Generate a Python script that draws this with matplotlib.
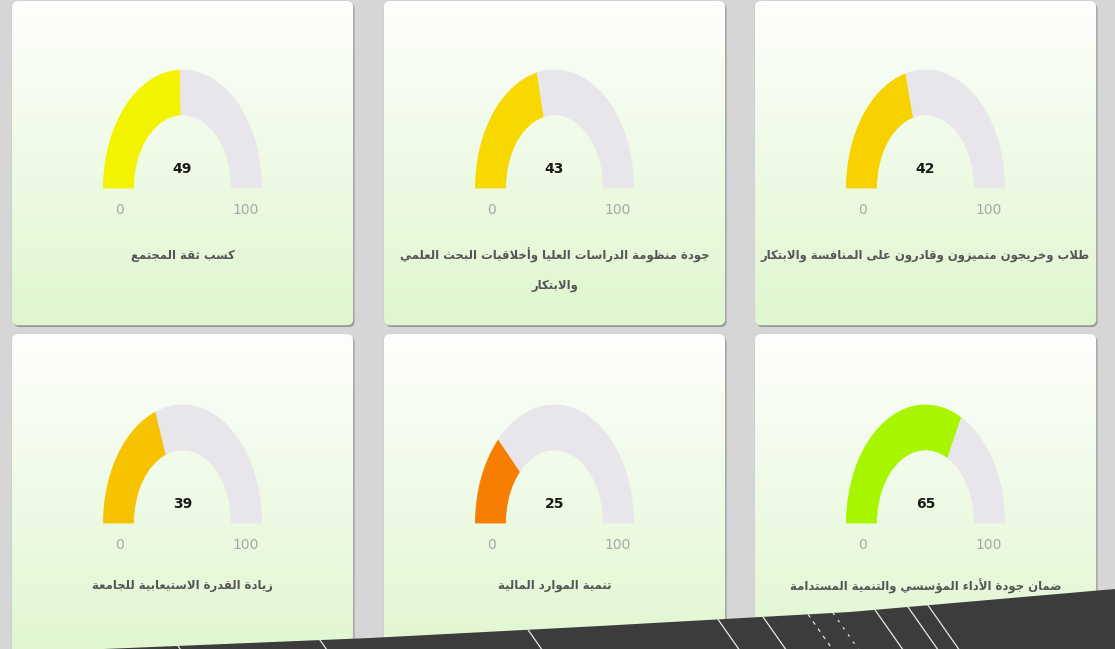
import numpy as np
import matplotlib
matplotlib.use('Agg')
import matplotlib.pyplot as plt
from matplotlib.patches import FancyBboxPatch, Polygon

# بطاقات المؤشرات (من اليسار لليمين، صف علوي ثم سفلي)
titles = [
    'كسب ثقة المجتمع',
    'جودة منظومة الدراسات العليا وأخلاقيات البحث العلمي\nوالابتكار',
    'طلاب وخريجون متميزون وقادرون على المنافسة والابتكار',
    'زيادة القدرة الاستيعابية للجامعة',
    'تنمية الموارد المالية',
    'ضمان جودة الأداء المؤسسي والتنمية المستدامة',
]
values = [49, 43, 42, 39, 25, 65]
gauge_min = 0
gauge_max = 100
colors = ['#f3f300', '#f7d800', '#f7d200', '#f7c300', '#f77d00', '#a8f500']

# --- tiny arabic shaper (matplotlib has no bidi / joining) ---
_order = ([(0x621, 1), (0x622, 2), (0x623, 2), (0x624, 2), (0x625, 2), (0x626, 4),
           (0x627, 2), (0x628, 4), (0x629, 2)]
          + [(c, 4) for c in range(0x62A, 0x62F)]
          + [(0x62F, 2), (0x630, 2), (0x631, 2), (0x632, 2)]
          + [(c, 4) for c in range(0x633, 0x63B)]
          + [(c, 4) for c in range(0x641, 0x648)]
          + [(0x648, 2), (0x649, 2), (0x64A, 4)])
FORMS = {}
p = 0xFE80
for c, n in _order:
    FORMS[chr(c)] = [chr(p + i) for i in range(n)]
    p += n
LAM_ALEF = {'\u0622': 0xFEF5, '\u0623': 0xFEF7, '\u0625': 0xFEF9, '\u0627': 0xFEFB}


def dual(ch):
    return ch in FORMS and len(FORMS[ch]) == 4


def joinable(ch):
    return ch in FORMS and len(FORMS[ch]) >= 2


def shape_line(text):
    out = []
    prev = None
    i = 0
    while i < len(text):
        ch = text[i]
        if ch not in FORMS:
            out.append(ch)
            prev = None
            i += 1
            continue
        jp = prev is not None and dual(prev) and joinable(ch)
        if ch == '\u0644' and i + 1 < len(text) and text[i + 1] in LAM_ALEF:
            out.append(chr(LAM_ALEF[text[i + 1]] + (1 if jp else 0)))
            prev = text[i + 1]
            i += 2
            continue
        nxt = text[i + 1] if i + 1 < len(text) else None
        jn = dual(ch) and nxt is not None and joinable(nxt)
        idx = (3 if jn else 1) if jp else (2 if jn else 0)
        out.append(FORMS[ch][idx])
        prev = ch
        i += 1
    return ''.join(reversed(out))


W, H = 1115, 649
fig = plt.figure(figsize=(W / 100, H / 100), dpi=100)
fig.patch.set_facecolor('#d6d6d6')
ax = fig.add_axes([0, 0, 1, 1])
ax.set_xlim(0, W)
ax.set_ylim(H, 0)
ax.axis('off')

card_x = [12, 384, 755]
card_w = 341
row_y = [1, 334]
card_h = [324, 330]
base_y = [188, 523]
grad = np.linspace(0, 1, 200)[:, None, None]
top_c = np.array([0.995, 0.998, 0.99])
bot_c = np.array([0.875, 0.965, 0.81])
grad_img = top_c * (1 - grad) + bot_c * grad

for k in range(6):
    r, c = divmod(k, 3)
    x0, y0, h = card_x[c], row_y[r], card_h[r]
    shadow = FancyBboxPatch((x0 + 1.5, y0 + 2), card_w, h,
                            boxstyle='round,pad=0,rounding_size=6',
                            fc='#6a6a6a', ec='none', alpha=0.6, zorder=1)
    ax.add_patch(shadow)
    card = FancyBboxPatch((x0, y0), card_w, h,
                          boxstyle='round,pad=0,rounding_size=6',
                          fc='#f4fbef', ec='#c8c8c8', lw=0.6, zorder=2)
    ax.add_patch(card)
    im = ax.imshow(grad_img, extent=(x0, x0 + card_w, y0 + h, y0),
                   aspect='auto', zorder=2.5, interpolation='bilinear')
    im.set_clip_path(card)

    cx = x0 + card_w / 2
    by = base_y[r]
    # gauge: own axes so the half ring comes out as the same squashed ellipse
    g = fig.add_axes([(cx - 79) / W, 1 - by / H, 158 / W, 118 / H])
    v = values[k]
    wedges, _ = g.pie([v - gauge_min, gauge_max - v, gauge_max - gauge_min],
                      colors=[colors[k], '#e8e6ea', 'none'],
                      startangle=180, counterclock=False, radius=1,
                      wedgeprops=dict(width=0.38, linewidth=0.6))
    for w in wedges[:2]:
        w.set_edgecolor(w.get_facecolor())
    wedges[2].set_visible(False)
    g.set_aspect('auto')
    g.set_xlim(-1, 1)
    g.set_ylim(0, 1)
    g.axis('off')
    g.patch.set_alpha(0)

    ax.text(cx, by - 19, str(v), ha='center', va='center', fontsize=10,
            fontweight='bold', color='#1a1a1a', zorder=5)
    ax.text(cx - 63, by + 22, str(gauge_min), ha='center', va='center',
            fontsize=10, color='#a8a8a8', zorder=5)
    ax.text(cx + 63, by + 22, str(gauge_max), ha='center', va='center',
            fontsize=10, color='#a8a8a8', zorder=5)
    lines = titles[k].split('\n')
    ty = by + 67 if r == 0 else by + 63
    for j, line in enumerate(lines):
        ax.text(cx, ty + j * 31, shape_line(line), ha='center', va='center',
                fontsize=8.4, fontweight='bold', color='#555555', zorder=5)

# dark band across the bottom
band_x = [80, 370, 600, 850, 1115]
band_y = [650, 638, 626, 612, 589]
band = Polygon(list(zip(band_x, band_y)) + [(W, H + 2), (80, H + 2)],
               closed=True, fc='#3c3c3c', ec='none', zorder=8)
ax.add_patch(band)
for xt, ls in [(178, '-'), (320, '-'), (528, '-'), (718, '-'), (763, '-'),
               (808, (0, (3, 4))), (833, (0, (2, 5))), (875, '-'), (908, '-'), (928, '-')]:
    yt = np.interp(xt, band_x, band_y)
    ax.plot([xt, xt + 0.7 * (H - yt)], [yt, H], color='#e8e8e8', lw=0.9,
            ls=ls, zorder=9)

fig.savefig('out.png', dpi=100, facecolor=fig.get_facecolor())
